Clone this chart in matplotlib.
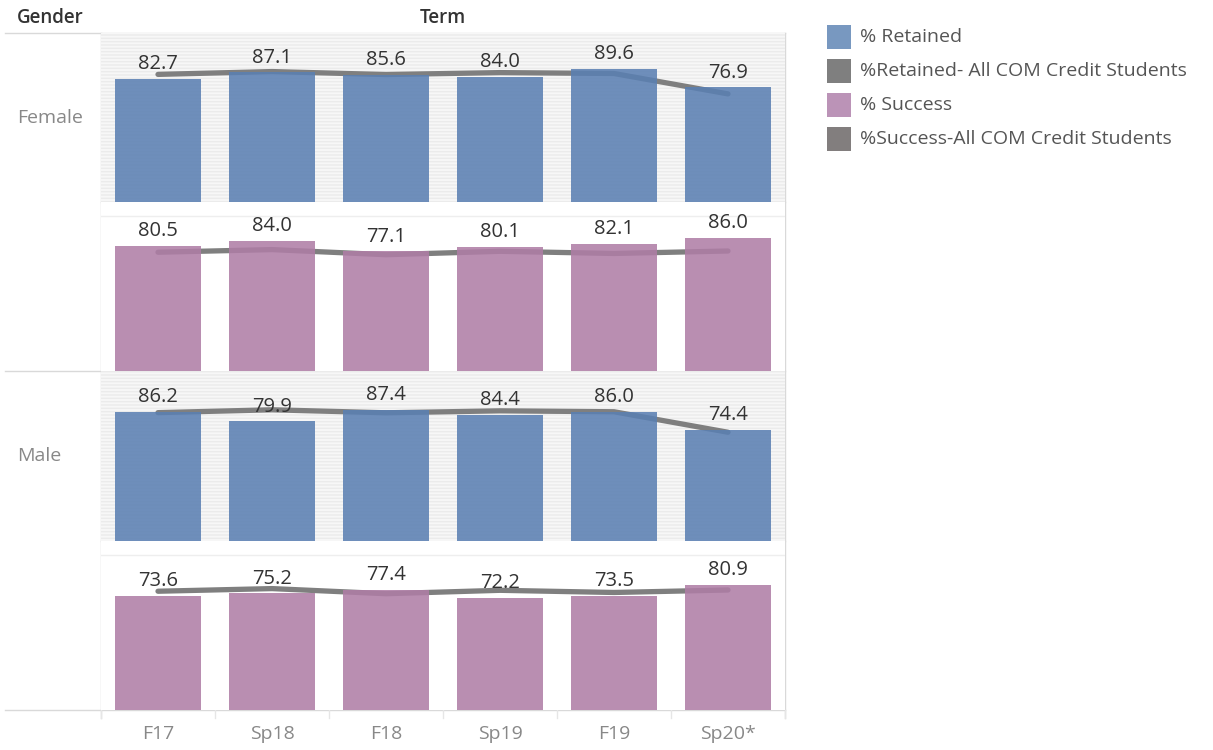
import matplotlib.pyplot as plt
from matplotlib.lines import Line2D
from matplotlib.patches import Rectangle

plt.rcParams['font.family'] = ['Open Sans', 'DejaVu Sans']

TERMS = ['F17', 'Sp18', 'F18', 'Sp19', 'F19', 'Sp20*']
FEMALE_RETAINED = [82.7, 87.1, 85.6, 84.0, 89.6, 76.9]
FEMALE_SUCCESS = [80.5, 84.0, 77.1, 80.1, 82.1, 86.0]
MALE_RETAINED = [86.2, 79.9, 87.4, 84.4, 86.0, 74.4]
MALE_SUCCESS = [73.6, 75.2, 77.4, 72.2, 73.5, 80.9]
COM_RETAINED = [85.7, 87.6, 85.6, 86.9, 86.3, 72.6]
COM_SUCCESS = [76.6, 78.3, 75.0, 77.2, 75.8, 77.4]
GENDERS = ['Female', 'Male']
LEGEND_LABELS = ['% Retained', '%Retained- All COM Credit Students',
                 '% Success', '%Success-All COM Credit Students']

W, H = 1213, 750
BLUE = '#5A7FB2'
PINK = '#AF7DA6'
LINE = '#7f7f7f'
GRID = '#d9d9d9'


def fig_rect(x0, y0, x1, y1):
    return [x0 / W, 1 - y1 / H, (x1 - x0) / W, (y1 - y0) / H]


def main():
    fig = plt.figure(figsize=(W / 100, H / 100), dpi=100)

    # overlay in pixel coords for frame lines and headers
    ov = fig.add_axes([0, 0, 1, 1])
    ov.set_xlim(0, W)
    ov.set_ylim(H, 0)
    ov.axis('off')

    panels = [
        (33, 202, FEMALE_RETAINED, COM_RETAINED, BLUE, 113.5, True),
        (202, 371, FEMALE_SUCCESS, COM_SUCCESS, PINK, 109, False),
        (371, 541, MALE_RETAINED, COM_RETAINED, BLUE, 113.5, True),
        (541, 710, MALE_SUCCESS, COM_SUCCESS, PINK, 109, False),
    ]
    x = list(range(len(TERMS)))
    for top, bot, vals, com, col, ymax, striped in panels:
        ax = fig.add_axes(fig_rect(101, top, 785, bot))
        ax.set_xlim(-0.5, len(TERMS) - 0.5)
        ax.set_ylim(0, ymax)
        for s in ax.spines.values():
            s.set_visible(False)
        ax.set_xticks([])
        ax.set_yticks([])
        if striped:
            ax.set_facecolor('#f7f7f7')
            ax.add_patch(Rectangle((0, 0), 1, 1, transform=ax.transAxes,
                                   facecolor='none', edgecolor='#ebebeb',
                                   hatch='-----', lw=0, zorder=0))
        else:
            ax.axhline(100, color='#eeeeee', lw=1, zorder=0)
        ax.plot(x, com, color=LINE, lw=3.8, solid_capstyle='round', zorder=2)
        ax.bar(x, vals, width=0.76, color=col, alpha=0.87, zorder=3)
        for xi, v in zip(x, vals):
            ax.annotate('%.1f' % v, (xi, v), xytext=(0, 7), textcoords='offset points',
                        ha='center', va='baseline', fontsize=14.5, color='#333333',
                        zorder=4)

    # frame lines
    ov.add_line(Line2D([5, 785], [33, 33], color=GRID, lw=1))
    ov.add_line(Line2D([101, 785], [202, 202], color=GRID, lw=1))
    ov.add_line(Line2D([5, 785], [371, 371], color=GRID, lw=1))
    ov.add_line(Line2D([101, 785], [541, 541], color=GRID, lw=1))
    ov.add_line(Line2D([5, 785], [710, 710], color=GRID, lw=1))
    ov.add_line(Line2D([101, 101], [33, 718], color=GRID, lw=1))
    ov.add_line(Line2D([785, 785], [33, 718], color=GRID, lw=1))
    for i in range(len(TERMS) + 1):
        xb = 101 + i * 114
        ov.add_line(Line2D([xb, xb], [710, 718], color='#e6e6e6', lw=1))

    # headers and row labels
    ov.text(17, 18, 'Gender', fontsize=13.5, color='#333333', fontweight='semibold',
            va='center', ha='left')
    ov.text(443, 18, 'Term', fontsize=13.5, color='#333333', fontweight='semibold',
            va='center', ha='center')
    ov.text(17, 118, GENDERS[0], fontsize=14, color='#888888', va='center', ha='left')
    ov.text(17, 456, GENDERS[1], fontsize=14, color='#888888', va='center', ha='left')
    for i, t in enumerate(TERMS):
        ov.text(101 + 57 + i * 114, 734, t, fontsize=14, color='#888888',
                va='center', ha='center')

    # legend
    leg_cols = ['#7898C0', '#7f7f7f', '#BB93B7', '#827e7e']
    for i, (lab, c) in enumerate(zip(LEGEND_LABELS, leg_cols)):
        yc = 37 + i * 34
        ov.add_patch(Rectangle((827, yc - 12), 24, 24, facecolor=c, edgecolor='none'))
        ov.text(860, yc, lab, fontsize=14, color='#555555', va='center', ha='left')

    fig.savefig('out.png', dpi=100)


if __name__ == "__main__":
    main()
